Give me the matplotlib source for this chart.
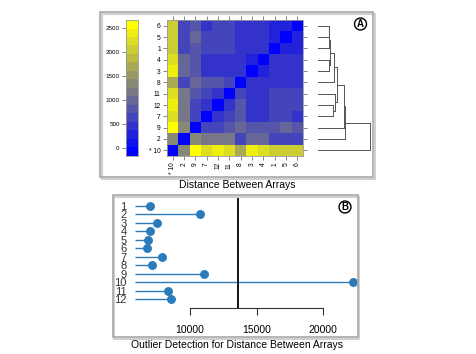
import numpy as np
import matplotlib
matplotlib.use("Agg")
from matplotlib import pyplot as plt
from matplotlib.colors import LinearSegmentedColormap, Normalize
from matplotlib.patches import Rectangle
from matplotlib import font_manager

plt.rcParams['font.family'] = ['Liberation Sans', 'DejaVu Sans']

# heatmap order (bottom -> top rows, left -> right columns)
order = [10, 2, 9, 7, 12, 11, 8, 3, 4, 1, 5, 6]
order_labels = ['* 10', '2', '9', '7', '12', '11', '8', '3', '4', '1', '5', '6']

# distance between arrays, in display order
dist = np.array([
    [0, 1300, 2600, 2300, 2450, 2300, 1700, 2350, 2250, 2050, 2050, 2000],
    [1300, 0, 1250, 1150, 1150, 1200, 550, 950, 950, 550, 550, 700],
    [2600, 1250, 0, 650, 650, 800, 1000, 800, 800, 850, 1000, 750],
    [2300, 1150, 650, 0, 450, 550, 750, 450, 450, 650, 650, 450],
    [2450, 1150, 650, 450, 0, 450, 750, 450, 450, 650, 650, 550],
    [2300, 1200, 800, 550, 450, 0, 700, 450, 450, 650, 650, 550],
    [1700, 550, 1000, 750, 750, 700, 0, 500, 500, 400, 400, 400],
    [2350, 950, 800, 450, 450, 450, 500, 0, 350, 500, 500, 400],
    [2250, 950, 800, 450, 450, 450, 500, 350, 0, 500, 500, 400],
    [2050, 550, 850, 650, 650, 650, 400, 500, 500, 0, 350, 350],
    [2050, 550, 1000, 650, 650, 650, 400, 500, 500, 350, 0, 350],
    [2000, 700, 750, 450, 550, 550, 400, 400, 400, 350, 350, 0],
])
cbar_ticks = [0, 500, 1000, 1500, 2000, 2500]
color_min, color_max, n_colors = -175, 2675, 16

# dendrogram merges: (left, right, height); ints are arrays, 'cN' earlier clusters
merges = [
    (6, 5, 428),
    ('c0', 1, 452),
    (4, 3, 420),
    ('c1', 'c2', 492),
    ('c3', 8, 628),
    (12, 7, 588),
    (11, 'c5', 692),
    ('c4', 'c6', 760),
    ('c7', 9, 1028),
    ('c8', 2, 1092),
    ('c9', 10, 2092),
]

# outlier panel
arrays = list(range(1, 13))
outlier_score = [7000, 10750, 7520, 7000, 6820, 6740, 7920, 7120, 11080, 22280, 8370, 8550]
threshold = 13600
x_ticks = [10000, 15000, 20000]

W, H = 476, 354


def box(x0, y0, x1, y1):
    return [x0 / W, 1 - y1 / H, (x1 - x0) / W, (y1 - y0) / H]


# narrow font for the crowded labels of panel B, if there is one
installed = {f.name for f in font_manager.fontManager.ttflist}
narrow = 'Liberation Sans Narrow' if 'Liberation Sans Narrow' in installed else 'Liberation Sans'

fig = plt.figure(figsize=(W / 100, H / 100), dpi=100)

# panel frames
for (x0, y0, x1, y1) in [(100, 12, 373, 177), (113, 195, 358, 337)]:
    fig.patches.append(Rectangle((x0 / W + 1.5 / W, 1 - y1 / H - 1.5 / H), (x1 - x0) / W, (y1 - y0) / H,
                                 transform=fig.transFigure, fc='none', ec='#d0d0d0', lw=1.5))
    fig.patches.append(Rectangle((x0 / W, 1 - y1 / H), (x1 - x0) / W, (y1 - y0) / H,
                                 transform=fig.transFigure, fc='none', ec='#a8a8a8', lw=1.2))

cmap = LinearSegmentedColormap.from_list('bgy', ['#0000ff', '#808080', '#ffff00'], N=n_colors)
norm = Normalize(color_min, color_max)

# colour key
ax_key = fig.add_axes(box(126, 20, 138, 156))
edges = np.linspace(color_min, color_max, n_colors + 1)
mids = (edges[:-1] + edges[1:]) / 2
ax_key.pcolormesh([0, 1], edges, mids.reshape(-1, 1), cmap=cmap, norm=norm)
ax_key.set_ylim(color_min, color_max)
ax_key.set_xticks([])
ax_key.set_yticks(cbar_ticks)
ax_key.tick_params(axis='y', labelsize=4.5, length=3, width=0.5, pad=1.5, color='#555555')
for s in ax_key.spines.values():
    s.set_color('#999999')
    s.set_linewidth(0.6)

# heatmap
ax_hm = fig.add_axes(box(167, 20, 303, 156))
n = len(order)
ax_hm.pcolormesh(np.arange(n + 1), np.arange(n + 1), dist, cmap=cmap, norm=norm)
ax_hm.set_xlim(0, n)
ax_hm.set_ylim(0, n)
ax_hm.set_xticks(np.arange(n) + 0.5)
ax_hm.set_yticks(np.arange(n) + 0.5)
ax_hm.set_xticklabels(order_labels, rotation=90)
ax_hm.set_yticklabels(order_labels)
ax_hm.tick_params(labelsize=4.8, length=3, width=0.5, pad=1.5, color='#555555',
                  top=True, right=True)
for s in ax_hm.spines.values():
    s.set_color('#999999')
    s.set_linewidth(0.6)

# dendrogram
ax_den = fig.add_axes(box(318, 20, 373, 156))
pos = {lab: i + 0.5 for i, lab in enumerate(order)}
node_h = {lab: 0 for lab in order}
for k, (a, b, h) in enumerate(merges):
    for c in (a, b):
        ax_den.plot([node_h[c], h], [pos[c], pos[c]], color='#555555', lw=0.7)
    ax_den.plot([h, h], [pos[a], pos[b]], color='#555555', lw=0.7)
    pos['c%d' % k] = (pos[a] + pos[b]) / 2
    node_h['c%d' % k] = h
ax_den.set_xlim(0, 2200)
ax_den.set_ylim(0, n)
ax_den.axis('off')

fig.text(360.5 / W, 1 - 24 / H, 'A', ha='center', va='center', fontsize=7, fontweight='bold',
         bbox=dict(boxstyle='circle,pad=0.1', fc='white', ec='black', lw=1.0))
fig.text(237.5 / W, 1 - 185 / H, 'Distance Between Arrays', ha='center', va='center', fontsize=7.5)

# outlier dot chart
ax_b = fig.add_axes(box(135, 198, 357, 308))
y = np.array(arrays)
ax_b.hlines(y, 5864, outlier_score, color='#2b7bba', lw=1.0)
ax_b.plot(outlier_score, y, 'o', color='#2b7bba', ms=5.4)
ax_b.axvline(threshold, color='black', lw=1.3)
ax_b.set_xlim(5864, 22556)
ax_b.set_ylim(13.06, 0.054)
ax_b.set_yticks(y)
ax_b.set_yticklabels([str(a) for a in arrays], family=[narrow, 'DejaVu Sans'])
ax_b.tick_params(axis='y', length=0, labelsize=8, pad=6, labelcolor='#333333')
ax_b.set_xticks(x_ticks)
ax_b.set_xticklabels([str(v) for v in x_ticks])
ax_b.tick_params(axis='x', labelsize=7.5, length=5, width=0.8, pad=7.5, color='#333333')
for side in ['top', 'right', 'left']:
    ax_b.spines[side].set_visible(False)
ax_b.spines['bottom'].set_bounds(10000, 20000)
ax_b.spines['bottom'].set_color('#333333')
ax_b.spines['bottom'].set_linewidth(0.8)

fig.text(345 / W, 1 - 207 / H, 'B', ha='center', va='center', fontsize=7, fontweight='bold',
         bbox=dict(boxstyle='circle,pad=0.1', fc='white', ec='black', lw=1.0))
fig.text(237 / W, 1 - 345.5 / H, 'Outlier Detection for Distance Between Arrays', ha='center',
         va='center', fontsize=7.5)

fig.savefig('out.png', dpi=100)
